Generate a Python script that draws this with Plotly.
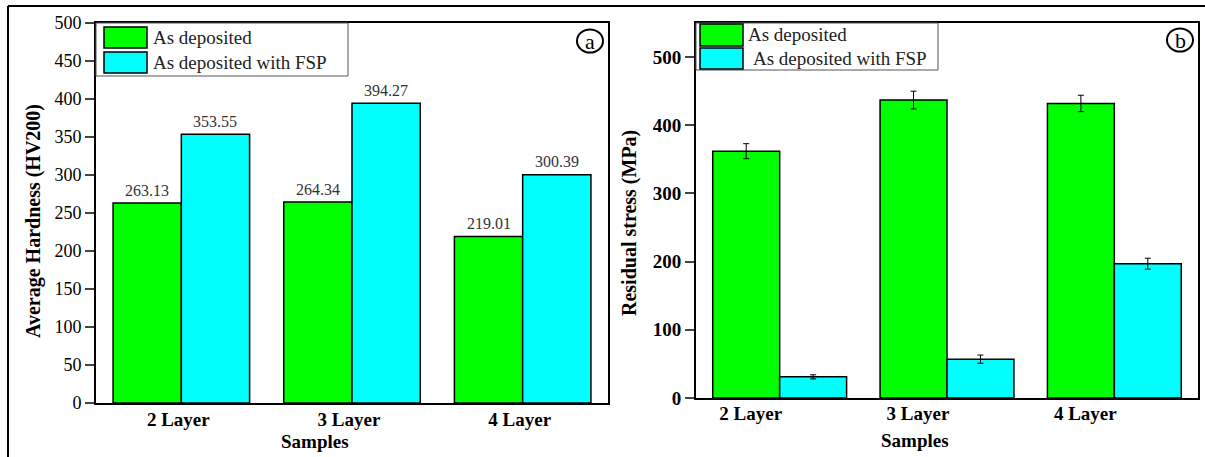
import plotly.graph_objects as go

# ---- data ----
samples = ["2 Layer", "3 Layer", "4 Layer"]
series_names = ["As deposited", "As deposited with FSP"]

hardness_dep = [263.13, 264.34, 219.01]
hardness_fsp = [353.55, 394.27, 300.39]

stress_dep = [362, 437, 432]
stress_dep_err = [11, 13, 12]
stress_fsp = [31, 57, 197]
stress_fsp_err = [3, 6, 8]

hardness_ticks = list(range(0, 501, 50))
stress_ticks = list(range(0, 501, 100))

GREEN = "#00ff00"
CYAN = "#00ffff"
SERIF = "Liberation Serif, Times New Roman, serif"

W, H = 1205, 457


def px(x):
    return x / W


def py(y):
    return 1 - y / H


fig = go.Figure()

bar_line = dict(color="black", width=1.5)

# (a) hardness
fig.add_trace(go.Bar(
    x=samples, y=hardness_dep, name=series_names[0],
    marker=dict(color=GREEN, line=bar_line),
    xaxis="x", yaxis="y", showlegend=False,
))
fig.add_trace(go.Bar(
    x=samples, y=hardness_fsp, name=series_names[1],
    marker=dict(color=CYAN, line=bar_line),
    xaxis="x", yaxis="y", showlegend=False,
))

# (b) residual stress
err_style = dict(type="data", color="black", thickness=1, width=3)
fig.add_trace(go.Bar(
    x=samples, y=stress_dep, name=series_names[0],
    error_y=dict(array=stress_dep_err, **err_style),
    marker=dict(color=GREEN, line=bar_line),
    xaxis="x2", yaxis="y2", showlegend=False,
))
fig.add_trace(go.Bar(
    x=samples, y=stress_fsp, name=series_names[1],
    error_y=dict(array=stress_fsp_err, **err_style),
    marker=dict(color=CYAN, line=bar_line),
    xaxis="x2", yaxis="y2", showlegend=False,
))

axis_common = dict(showline=True, linewidth=2, linecolor="black", mirror=True,
                   showgrid=False, zeroline=False, automargin=False)

fig.update_layout(
    width=W, height=H,
    margin=dict(l=0, r=0, t=0, b=0, pad=0, autoexpand=False),
    paper_bgcolor="white", plot_bgcolor="white",
    barmode="group", bargap=0.2, bargroupgap=0,
    font=dict(family=SERIF, color="black"),
    xaxis=dict(domain=[px(96), px(608)], range=[-0.5, 2.5], ticks="",
               tickfont=dict(family=SERIF, size=19, weight="bold"),
               ticklabelstandoff=-2, ticklabelshift=-3,
               anchor="y", **axis_common),
    yaxis=dict(domain=[py(403), py(23)], range=[0, 500],
               tickvals=hardness_ticks, ticks="outside", ticklen=9, tickwidth=2,
               tickfont=dict(family=SERIF, size=18),
               anchor="x", **axis_common),
    xaxis2=dict(domain=[px(696), px(1198)], range=[-0.5, 2.5], ticks="",
                tickfont=dict(family=SERIF, size=19, weight="bold"),
                ticklabelstandoff=-3, ticklabelshift=-29,
                anchor="y2", **axis_common),
    yaxis2=dict(domain=[py(398), py(23)], range=[0, 550],
                tickvals=stress_ticks, ticks="outside", ticklen=9, tickwidth=2,
                tickfont=dict(family=SERIF, size=19, weight="bold"),
                anchor="x2", **axis_common),
)

shapes = []
annotations = []

# value labels above the hardness bars (left bar / right bar of each group)
for values, shift in [(hardness_dep, -34), (hardness_fsp, 34)]:
    for cat, val in zip(samples, values):
        annotations.append(dict(xref="x", yref="y", x=cat, y=val,
                                xshift=shift, yshift=13,
                                xanchor="center", yanchor="middle", showarrow=False,
                                text=f"{val:.2f}",
                                font=dict(family=SERIF, size=16, color="#333333")))

# outer figure frame (top and left edges)
shapes.append(dict(type="line", xref="paper", yref="paper",
                   x0=px(8), x1=px(1205), y0=py(6), y1=py(6),
                   line=dict(color="black", width=2)))
shapes.append(dict(type="line", xref="paper", yref="paper",
                   x0=px(8), x1=px(8), y0=py(6), y1=py(457),
                   line=dict(color="black", width=2)))


def legend_box(x0, x1, y0, y1, rows):
    shapes.append(dict(type="rect", xref="paper", yref="paper",
                       x0=px(x0), x1=px(x1), y0=py(y1), y1=py(y0),
                       line=dict(color="#555555", width=1), fillcolor="white",
                       layer="above"))
    for (sx0, sx1, sy0, sy1, color, tx, label) in rows:
        shapes.append(dict(type="rect", xref="paper", yref="paper",
                           x0=px(sx0), x1=px(sx1), y0=py(sy1), y1=py(sy0),
                           line=dict(color="black", width=1.5), fillcolor=color,
                           layer="above"))
        annotations.append(dict(xref="paper", yref="paper",
                                x=px(tx), y=py((sy0 + sy1) / 2),
                                xanchor="left", yanchor="middle", showarrow=False,
                                text=label,
                                font=dict(family=SERIF, size=19, color="#222222")))


legend_box(96, 348, 23, 76, [
    (104, 147, 27, 48, GREEN, 151, series_names[0]),
    (104, 147, 52, 73, CYAN, 151, series_names[1]),
])
legend_box(696, 938, 23, 70, [
    (700, 743, 24, 46, GREEN, 746, series_names[0]),
    (700, 743, 48, 69, CYAN, 751, series_names[1]),
])

# circled panel letters
for cx, cy, letter in [(590, 41, "a"), (1180, 40, "b")]:
    shapes.append(dict(type="circle", xref="paper", yref="paper",
                       x0=px(cx - 13), x1=px(cx + 13), y0=py(cy + 11.5), y1=py(cy - 11.5),
                       line=dict(color="black", width=2), layer="above"))
    annotations.append(dict(xref="paper", yref="paper", x=px(cx), y=py(cy + 1),
                            xanchor="center", yanchor="middle", showarrow=False,
                            text=letter, font=dict(family=SERIF, size=22, color="black")))

# axis titles
annotations.append(dict(xref="paper", yref="paper", x=px(33), y=py(221),
                        xanchor="center", yanchor="middle", showarrow=False,
                        textangle=-90, text="Average Hardness (HV200)",
                        font=dict(family=SERIF, size=20, weight="bold")))
annotations.append(dict(xref="paper", yref="paper", x=px(630), y=py(223),
                        xanchor="center", yanchor="middle", showarrow=False,
                        textangle=-90, text="Residual stress (MPa)",
                        font=dict(family=SERIF, size=20, weight="bold")))
annotations.append(dict(xref="paper", yref="paper", x=px(315), y=py(441),
                        xanchor="center", yanchor="middle", showarrow=False,
                        text="Samples", font=dict(family=SERIF, size=19, weight="bold")))
annotations.append(dict(xref="paper", yref="paper", x=px(915), y=py(440),
                        xanchor="center", yanchor="middle", showarrow=False,
                        text="Samples", font=dict(family=SERIF, size=19, weight="bold")))

fig.update_layout(shapes=shapes, annotations=annotations)

fig.write_html("out.html")
